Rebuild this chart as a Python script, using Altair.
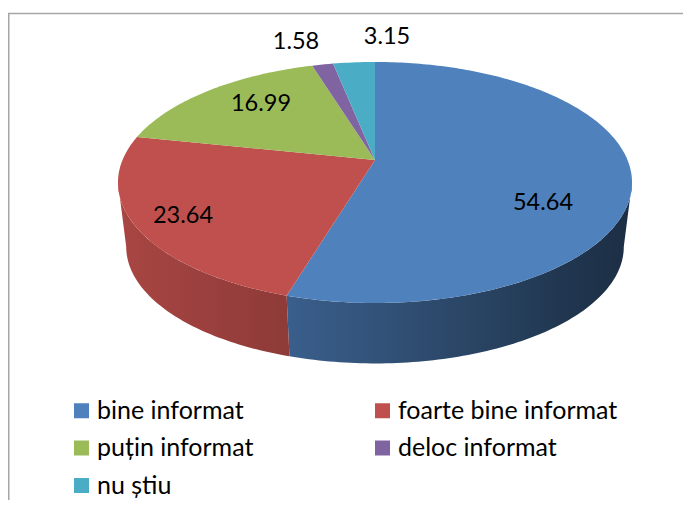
import altair as alt
import numpy as np
import pandas as pd

categories = ["bine informat", "foarte bine informat", "puțin informat", "deloc informat", "nu știu"]
shares = [54.64, 23.64, 16.99, 1.58, 3.15]
colors = ["#4f81bd", "#c0504d", "#9bbb59", "#8064a2", "#4bacc6"]

label_x = [535, 175, 253, 288, 379]
label_y = [195, 208, 96, 34, 29]

# perspective disc geometry (page pixels minus the 8px margin)
CX, CY, AX, AY, K = 367.0, 152.0, 252.5, 116.3, 0.1867
S2, Y2 = 0.968, 217.0
FONT = "Lato"
SHADE_X = [118, 288, 450, 560, 632]
SHADE_F = [0.88, 0.74, 0.56, 0.43, 0.36]
TANGENT = np.arccos(-K)


def pt(theta, s=1.0, y0=CY):
    u, v = np.sin(theta), np.cos(theta)
    w = 1 + K * v
    return [float(CX + s * AX * u / w), float(y0 - s * AY * v / w)]


def darker(hex_color, f):
    r, g, b = (int(hex_color[i:i + 2], 16) for i in (1, 3, 5))
    return f"#{int(r * f):02x}{int(g * f):02x}{int(b * f):02x}"


def wall(col, t0, t1):
    th = np.radians(np.arange(np.degrees(t0), np.degrees(t1), 1.0)).tolist() + [t1]
    ring = [pt(t) for t in th] + [pt(t, S2, Y2) for t in reversed(th)]
    ring.append(ring[0])
    xs = [p[0] + 8 for p in ring]
    lo, hi = min(xs), max(xs)
    offs = np.linspace(0, 1, 7)
    stops = [
        alt.GradientStop(offset=float(o),
                         color=darker(col, float(np.interp(lo + o * (hi - lo), SHADE_X, SHADE_F))))
        for o in offs
    ]
    feature = {"type": "Feature", "properties": {},
               "geometry": {"type": "Polygon", "coordinates": [ring]}}
    return alt.Chart(alt.Data(values=[feature])).mark_geoshape(
        fill=alt.Gradient(gradient="linear", x1=0, x2=1, y1=0, y2=0, stops=stops),
        strokeWidth=0,
    ).project(type="identity", scale=1, translate=[0, 0])


edges = np.concatenate([[0.0], np.cumsum(shares)]) / sum(shares) * 2 * np.pi
faces = []
for name, a0, a1 in zip(categories, edges[:-1], edges[1:]):
    th = np.linspace(a0, a1, max(2, int(np.degrees(a1 - a0))) + 1)
    ring = [[CX, CY]] + [pt(t) for t in th] + [[CX, CY]]
    faces.append({"type": "Feature", "properties": {"name": name},
                  "geometry": {"type": "Polygon", "coordinates": [ring]}})

wall_blue = wall(colors[0], TANGENT, edges[1])
wall_red = wall(colors[1], edges[1], 2 * np.pi - TANGENT)

face_layer = alt.Chart(alt.Data(values=faces)).mark_geoshape(strokeWidth=0).encode(
    color=alt.Color(
        "properties.name:N",
        scale=alt.Scale(domain=categories, range=colors),
        legend=alt.Legend(
            title=None, orient="none", legendX=61, legendY=390, columns=2, direction="horizontal",
            symbolType="square", symbolSize=225, symbolStrokeWidth=0, symbolOpacity=1,
            labelFont=FONT, labelFontSize=25, labelColor="#000000", labelOffset=3, labelLimit=400,
            rowPadding=11.5, columnPadding=116, padding=0,
        ),
    )
).project(type="identity", scale=1, translate=[0, 0])

labels = pd.DataFrame({"t": [f"{v:.2f}" for v in shares], "x": label_x, "y": label_y})
text_layer = alt.Chart(labels).mark_text(font=FONT, fontSize=23.5, color="#000000").encode(
    x=alt.X("x:Q", scale=None), y=alt.Y("y:Q", scale=None), text="t:N"
)

frame_color = "#a6a6a6"
frame_top = alt.Chart(pd.DataFrame({"a": [0]})).mark_rule(color=frame_color, strokeWidth=1.5).encode(
    x=alt.value(0), x2=alt.value(675), y=alt.value(5.5))
frame_left = alt.Chart(pd.DataFrame({"a": [0]})).mark_rule(color=frame_color, strokeWidth=1.5).encode(
    x=alt.value(0.75), y=alt.value(5), y2=alt.value(492))

chart = alt.layer(frame_top, frame_left, wall_blue, wall_red, face_layer, text_layer).properties(
    width=675, height=492, padding=0, autosize=alt.AutoSizeParams(type="none")
).configure_view(stroke=None)

chart.save("out.html", embed_options={"renderer": "svg", "actions": False})
